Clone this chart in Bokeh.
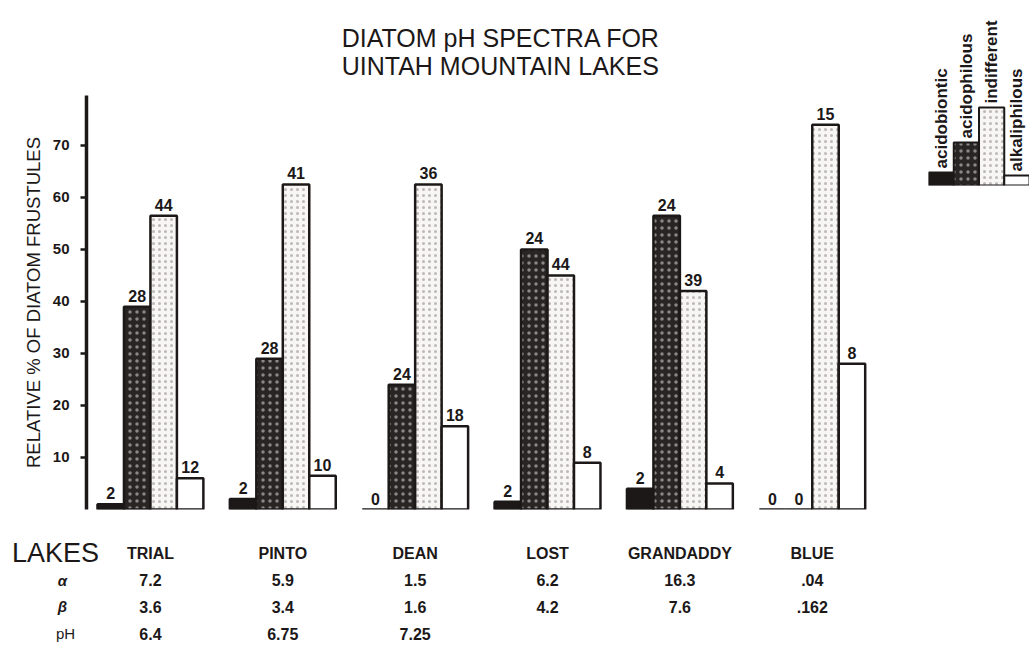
import math
from bokeh.plotting import figure
from bokeh.models import ColumnDataSource, Range1d, LinearAxis, FixedTicker, Title
from bokeh.layouts import row, column
from bokeh.transform import dodge
from bokeh.core.properties import value
from bokeh.embed import file_html
from bokeh.resources import INLINE

# ---------------- data ----------------
lakes = ["TRIAL", "PINTO", "DEAN", "LOST", "GRANDADDY", "BLUE"]
groups = ["acidobiontic", "acidophilous", "indifferent", "alkaliphilous"]

# relative % of diatom frustules (bar heights)
acidobiontic_pct = [1, 2, 0, 1.5, 4, 0]
acidophilous_pct = [39, 29, 24, 50, 56.5, 0]
indifferent_pct = [56.5, 62.5, 62.5, 45, 42, 74]
alkaliphilous_pct = [6, 6.5, 16, 9, 5, 28]

# numbers printed above the bars
acidobiontic_n = [2, 2, 0, 2, 2, 0]
acidophilous_n = [28, 28, 24, 24, 24, 0]
indifferent_n = [44, 41, 36, 44, 39, 15]
alkaliphilous_n = [12, 10, 18, 8, 4, 8]

alpha_vals = ["7.2", "5.9", "1.5", "6.2", "16.3", ".04"]
beta_vals = ["3.6", "3.4", "1.6", "4.2", "7.6", ".162"]
ph_vals = ["6.4", "6.75", "7.25", "", "", ""]

yticks = [10, 20, 30, 40, 50, 60, 70]
title_text = "DIATOM pH SPECTRA FOR\nUINTAH MOUNTAIN LAKES"
ylabel = "RELATIVE % OF DIATOM FRUSTULES"
row_headers = ["LAKES", "\u03b1", "\u03b2", "pH"]

# ---------------- styles ----------------
INK = "#1c1818"
FONT = "Liberation Sans"
BAR_W = 0.2
styles = {
    "acidobiontic": dict(fill_color=INK),
    "acidophilous": dict(fill_color="#2a2525", hatch_pattern="dot", hatch_color="white",
                         hatch_alpha=0.45, hatch_scale=7, hatch_weight=1.4),
    "indifferent": dict(fill_color="#f8f6f4", hatch_pattern="dot", hatch_color=INK,
                        hatch_alpha=0.28, hatch_scale=6, hatch_weight=1.0),
    "alkaliphilous": dict(fill_color="white"),
}
pct = dict(zip(groups, [acidobiontic_pct, acidophilous_pct, indifferent_pct, alkaliphilous_pct]))
cnt = dict(zip(groups, [acidobiontic_n, acidophilous_n, indifferent_n, alkaliphilous_n]))

data = dict(idx=list(range(len(lakes))), lake=lakes)
for g in groups:
    data[g] = pct[g]
    data[g + "_n"] = [str(v) for v in cnt[g]]
src = ColumnDataSource(data)

# ---------------- main chart ----------------
LEFT = 86
FRAME_W = 829
xr = Range1d(-0.483, 5.78)
p = figure(width=LEFT + FRAME_W, height=520, x_range=xr, y_range=Range1d(0, 79.6),
           output_backend="svg", toolbar_location=None,
           x_axis_location=None, y_axis_location=None,
           min_border_left=LEFT, min_border_right=0, min_border_top=95, min_border_bottom=11)
p.title.visible = False
p.grid.visible = False
p.outline_line_color = None

for k, g in enumerate(groups):
    off = (k - 1.5) * BAR_W
    xs = dodge("idx", off, range=p.x_range)
    p.vbar(x=xs, top=g, width=BAR_W, bottom=0, source=src,
           line_color=INK, line_width=2.5, **styles[g])
    p.text(x=xs, y=g, text=g + "_n", source=src, text_align="center",
           text_baseline="bottom", y_offset=-5, text_font=value(FONT),
           text_font_size="16px", text_font_style="bold", text_color=INK)

yaxis = LinearAxis(ticker=FixedTicker(ticks=yticks), axis_label=ylabel)
yaxis.axis_line_width = 3.5
yaxis.axis_line_color = INK
yaxis.major_tick_line_width = 2.5
yaxis.major_tick_line_color = INK
yaxis.major_tick_out = 6
yaxis.major_tick_in = 0
yaxis.minor_tick_line_color = None
yaxis.major_label_standoff = 11
yaxis.major_label_text_font = FONT
yaxis.major_label_text_font_size = "15px"
yaxis.major_label_text_font_style = "bold"
yaxis.major_label_text_color = INK
yaxis.axis_label_text_font = FONT
yaxis.axis_label_text_font_size = "18.5px"
yaxis.axis_label_text_font_style = "normal"
yaxis.axis_label_text_color = INK
yaxis.axis_label_standoff = 6
p.add_layout(yaxis, "left")

p.add_layout(Title(text=title_text, align="center", text_font=FONT, text_font_size="25px",
                   text_font_style="normal", text_color=INK, standoff=31), "above")

# ---------------- table below ----------------
HDR_W = 104
px_per_unit = FRAME_W / (xr.end - xr.start)
tyr = Range1d(3.56, -1.236)
t = figure(width=LEFT + FRAME_W - HDR_W, height=128,
           x_range=Range1d(xr.start + (HDR_W - LEFT) / px_per_unit, xr.end), y_range=tyr,
           output_backend="svg", toolbar_location=None,
           x_axis_location=None, y_axis_location=None, min_border=0)
t.title.visible = False
t.grid.visible = False
t.outline_line_color = None

tsrc = ColumnDataSource(dict(idx=list(range(len(lakes))), lake=lakes, a=alpha_vals, b=beta_vals,
                             ph=ph_vals, r0=[0] * 6, r1=[1] * 6, r2=[2] * 6, r3=[3] * 6))
t.text(x="idx", y="r0", text="lake", source=tsrc, text_align="center", text_baseline="middle",
       text_font=value(FONT), text_font_size="16px", text_font_style="bold", text_color=INK)
for col, r in [("a", "r1"), ("b", "r2"), ("ph", "r3")]:
    t.text(x="idx", y=r, text=col, source=tsrc, text_align="center", text_baseline="middle",
           text_font=value(FONT), text_font_size="16px", text_font_style="bold", text_color=INK)

# row headers, in a narrow strip left of the table
h = figure(width=HDR_W, height=128, x_range=Range1d(0, HDR_W), y_range=tyr,
           output_backend="svg", toolbar_location=None,
           x_axis_location=None, y_axis_location=None, min_border=0)
h.title.visible = False
h.grid.visible = False
h.outline_line_color = None
hsrc = ColumnDataSource(dict(x=[55, 62, 62, 65], y=[0, 1, 2, 3], text=row_headers,
                             size=["27px", "15px", "15px", "15px"],
                             style=["normal", "bold italic", "bold italic", "normal"]))
h.text(x="x", y="y", text="text", source=hsrc, text_align="center", text_baseline="middle",
       text_font=value(FONT), text_font_size="size", text_font_style="style", text_color=INK)

# ---------------- legend key (staircase) ----------------
legend_steps = [13, 43, 78, 10]
lg = figure(width=114, height=188, x_range=Range1d(0, 4), y_range=Range1d(0, 175),
            output_backend="svg", toolbar_location=None,
            x_axis_location=None, y_axis_location=None,
            min_border_left=13, min_border_right=0, min_border_top=10, min_border_bottom=3)
lg.title.visible = False
lg.grid.visible = False
lg.outline_line_color = None
for k, g in enumerate(groups):
    ls = ColumnDataSource(dict(x=[k + 0.5], top=[legend_steps[k]], name=[g]))
    lg.vbar(x="x", top="top", bottom=0, width=1, source=ls, line_color=INK, line_width=2,
            **styles[g])
    lg.text(x="x", y="top", text="name", source=ls, angle=math.pi / 2, text_align="left",
            text_baseline="middle", y_offset=-4, text_font=value(FONT), text_font_size="17px",
            text_font_style="bold", text_color=INK)

layout = row(column(p, row(h, t)), lg)
open("out.html", "w").write(file_html(layout, INLINE))
